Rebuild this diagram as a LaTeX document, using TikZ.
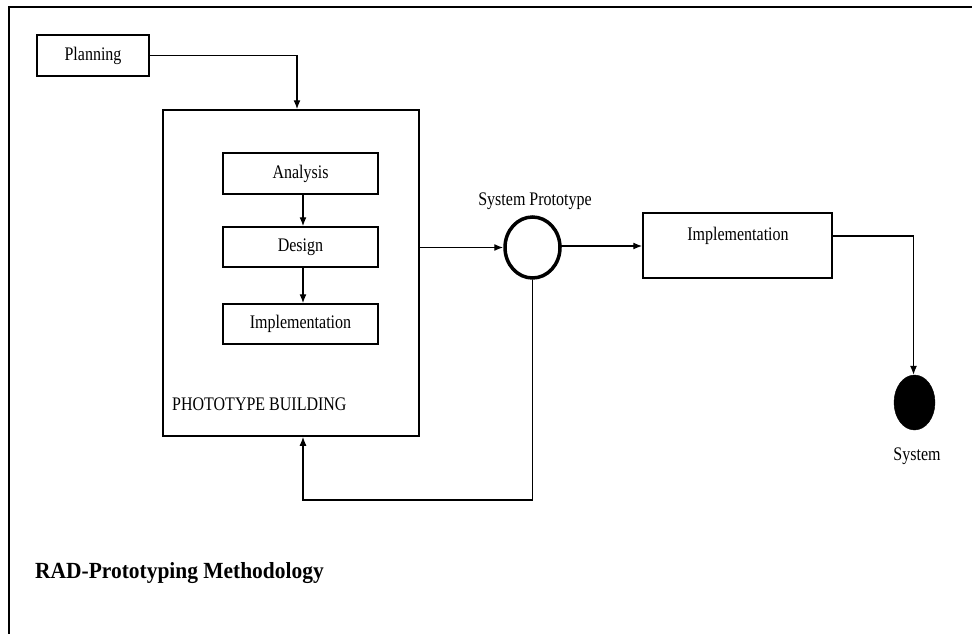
\documentclass[tikz,border=0pt]{standalone}
\usepackage{fontspec}
\setmainfont{Liberation Serif}
\usetikzlibrary{arrows.meta,shapes.geometric}
\newcommand\tx[1]{\scalebox{1}[1.2]{\fontsize{16}{18}\selectfont #1}}
\begin{document}
\begin{tikzpicture}[x=1pt,y=-1pt,
  box/.style={draw, line width=1.5pt, inner sep=0pt},
  lbl/.style={inner sep=0pt},
  arr/.style={line width=1.3pt, -{Latex[length=9pt,width=7pt]}},
  ln/.style={line width=1.3pt}]
\useasboundingbox (0,0) rectangle (972,634);
\fill[white] (0,0) rectangle (972,634);
% outer frame (left and top edges visible)
\draw[line width=2pt] (9,640) -- (9,7.5) -- (980,7.5);

\node[box, minimum width=112pt, minimum height=41pt] (plan) at (93,55.5) {\tx{Planning}};

\node[box, minimum width=256pt, minimum height=326pt] (pb) at (291,273) {};
\node[lbl, anchor=base west] (pbl) at (172,410) {\tx{PHOTOTYPE BUILDING}};

\node[box, minimum width=155pt, minimum height=41pt] (ana) at (300.5,173.5) {\tx{Analysis}};
\node[box, minimum width=155pt, minimum height=40pt] (des) at (300.5,247) {\tx{Design}};
\node[box, minimum width=155pt, minimum height=40pt] (imp) at (300.5,324) {\tx{Implementation}};

\draw[arr] ([xshift=2.5pt]ana.south) -- ([xshift=2.5pt]des.north);
\draw[arr] ([xshift=2.5pt]des.south) -- ([xshift=2.5pt]imp.north);

\draw[arr] (plan.east) -| ([xshift=6pt]pb.north);

\node[draw, ellipse, line width=3.5pt, minimum width=55pt, minimum height=61pt, inner sep=0pt] (sp) at (532.5,247.5) {};
\node[lbl, anchor=base] (spl) at (535,205) {\tx{System Prototype}};

\draw[arr] (pb.east |- sp.west) -- (sp.west);

\node[box, minimum width=189pt, minimum height=65pt] (impl2) at (737.5,245.5) {};
\node[lbl] (impl2t) at (738,236) {\tx{Implementation}};

\coordinate (spe) at (560,246);
\draw[arr] (spe) -- (impl2.west |- spe);

\node[draw, fill=black, ellipse, minimum width=41pt, minimum height=55pt, inner sep=0pt] (sys) at (914.5,402.5) {};
\node[lbl, anchor=base] (sysl) at (917,460) {\tx{System}};

\draw[arr] (impl2.east |- impl2t) -| ([xshift=-1pt]sys.north);

\coordinate (fb) at (303,500);
\draw[arr] (sp.south) |- (fb) -- ([xshift=12pt]pb.south);

\node[lbl, anchor=base west] (title) at (35,578) {\scalebox{0.975}[1.05]{\fontsize{22}{24}\selectfont\bfseries RAD-Prototyping Methodology}};
\end{tikzpicture}
\end{document}
